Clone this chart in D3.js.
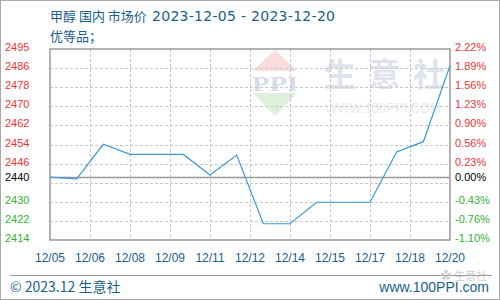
<!DOCTYPE html>
<html>
<head>
<meta charset="utf-8">
<script src="https://cdn.jsdelivr.net/npm/d3@7"></script>
<style>
body{margin:0;background:#fff;}
svg text{font-family:"Liberation Sans","Noto Sans",sans-serif;}
</style>
</head>
<body>
<div id="chart"></div>
<script>
// daily prices 12/05 .. 12/20
var startDay = new Date(2023, 11, 5);
var endDay = new Date(2023, 11, 20);
var prices = [2440.7, 2439.9, 2454.6, 2450.3, 2450.3, 2450.3, 2441.6, 2450.0,
              2420.9, 2420.9, 2430.0, 2430.0, 2430.0, 2451.3, 2455.7, 2487.9];
var baseValue = 2440.7;
var yMin = 2414, yMax = 2495;
var leftLabels = ["2414", "2422", "2430", "", "2446", "2454", "2462", "2470", "2478", "2486", "2495"];
var rightLabels = ["-1.10%", "-0.76%", "-0.43%", "", "0.23%", "0.56%", "0.90%", "1.23%", "1.56%", "1.89%", "2.22%"];
var baseLabel = "2440", basePct = "0.00%";
var titleName = "甲醇 国内 市场价 ";
var titleDates = "2023-12-05 - 2023-12-20";
var subTitle = "优等品；";

var W = 500, H = 300;
var plotLeft = 50, plotRight = 450, plotTop = 49, plotBottom = 240;
var blue = "#1a5e8c";

var svg = d3.select("#chart").append("svg")
    .attr("width", W).attr("height", H);

svg.append("rect").attr("x", 0.5).attr("y", 0.5)
    .attr("width", W - 1).attr("height", H - 1)
    .attr("fill", "#fff").attr("stroke", "#aaa");

var days = d3.timeDay.range(startDay, d3.timeDay.offset(endDay, 1));
var data = days.map(function(d, i){ return {date: d, value: prices[i]}; });

var x = d3.scaleTime().domain([startDay, endDay]).range([plotLeft, plotRight]);
var y = d3.scaleLinear().domain([yMin, yMax]).range([plotBottom, plotTop]);

var xTicks = d3.range(11).map(function(i){
    return new Date(+startDay + i * (endDay - startDay) / 10);
});
var yTicks = d3.range(11).map(function(i){ return yMin + i * (yMax - yMin) / 10; });

// watermark
var wm = svg.append("g");
wm.append("path")
    .attr("d", "M275,50 L297,71 L253,71 Z").attr("fill", "#f9dcdc");
wm.append("path")
    .attr("d", "M253,93 L297,93 L275,116 Z").attr("fill", "#dcf0dc");
wm.append("text").attr("x", 275).attr("y", 91)
    .attr("text-anchor", "middle")
    .attr("textLength", 46).attr("lengthAdjust", "spacingAndGlyphs")
    .style("font-family", "'Liberation Serif',serif").style("font-weight", "bold")
    .style("font-size", "20px").attr("fill", "#d6dcec").text("PPI");
wm.append("text").attr("x", 324).attr("y", 86)
    .attr("textLength", 121).attr("lengthAdjust", "spacing")
    .style("font-family", "'Noto Sans CJK SC',sans-serif").style("font-weight", "bold")
    .style("font-size", "32px").attr("fill", "#dfe3ee").text("生意社");
wm.append("text").attr("x", 325).attr("y", 113)
    .attr("textLength", 116).attr("lengthAdjust", "spacingAndGlyphs")
    .style("font-size", "14px").attr("fill", "#e8e9ee").text("WWW.100PPI.COM");

// grid
var grid = svg.append("g").attr("stroke", "#c8c8c8").attr("stroke-dasharray", "3,2");
grid.selectAll("line.v").data(xTicks.slice(1, -1)).enter().append("line")
    .attr("x1", function(d){ return Math.round(x(d)) + 0.5; })
    .attr("x2", function(d){ return Math.round(x(d)) + 0.5; })
    .attr("y1", plotTop).attr("y2", plotBottom);
grid.selectAll("line.h").data(yTicks.slice(1, -1)).enter().append("line")
    .attr("y1", function(d){ return Math.round(y(d)) + 0.5; })
    .attr("y2", function(d){ return Math.round(y(d)) + 0.5; })
    .attr("x1", plotLeft).attr("x2", plotRight);

// base line
svg.append("line").attr("x1", plotLeft).attr("x2", plotRight)
    .attr("y1", Math.round(y(baseValue)) + 0.5).attr("y2", Math.round(y(baseValue)) + 0.5)
    .attr("stroke", "#999").attr("stroke-width", 1.5);

// frame
svg.append("rect").attr("x", plotLeft).attr("y", plotTop)
    .attr("width", plotRight - plotLeft).attr("height", plotBottom - plotTop)
    .attr("fill", "none").attr("stroke", "#9a9a9a").attr("stroke-width", 1.5);

// line
var line = d3.line()
    .x(function(d){ return x(d.date); })
    .y(function(d){ return y(d.value); });
svg.append("path").datum(data)
    .attr("d", line).attr("fill", "none")
    .attr("stroke", "#3a98d8").attr("stroke-width", 1.2);

// y labels
function labelColor(i){ return i < 3 ? "#36b036" : "#ee3333"; }
svg.append("g").selectAll("text").data(yTicks).enter().append("text")
    .attr("x", 5).attr("y", function(d){ return y(d) + 2; })
    .style("font-size", "11px")
    .attr("fill", function(d, i){ return labelColor(i); })
    .text(function(d, i){ return leftLabels[i]; });
svg.append("g").selectAll("text").data(yTicks).enter().append("text")
    .attr("x", 455).attr("y", function(d){ return y(d) + 2; })
    .style("font-size", "11px")
    .attr("fill", function(d, i){ return labelColor(i); })
    .text(function(d, i){ return rightLabels[i]; });
svg.append("text").attr("x", 5).attr("y", y(baseValue) + 4)
    .style("font-size", "11px").attr("fill", "#000").text(baseLabel);
svg.append("text").attr("x", 455).attr("y", y(baseValue) + 4)
    .style("font-size", "11px").attr("fill", "#000").text(basePct);

// x labels
var fmt = d3.timeFormat("%m/%d");
svg.append("g").selectAll("text").data(xTicks).enter().append("text")
    .attr("x", function(d){ return x(d); }).attr("y", 262)
    .attr("text-anchor", "middle")
    .style("font-size", "12px").attr("fill", blue)
    .text(function(d){ return fmt(d); });

// titles
var t = svg.append("text").attr("x", 50).attr("y", 21)
    .style("font-family", "'Noto Sans CJK SC',sans-serif").style("font-size", "13px")
    .attr("fill", blue);
t.append("tspan").text(titleName);
t.append("tspan").attr("x", 152)
    .style("font-family", "'DejaVu Sans',sans-serif").style("font-size", "14px")
    .attr("textLength", 183).attr("lengthAdjust", "spacing")
    .text(titleDates);
svg.append("text").attr("x", 50).attr("y", 41)
    .style("font-family", "'Noto Sans CJK SC',sans-serif").style("font-size", "13px")
    .attr("fill", blue).text(subTitle);

// footer
svg.append("line").attr("x1", 10).attr("x2", 492).attr("y1", 275.5).attr("y2", 275.5)
    .attr("stroke", "#999");
svg.append("text").attr("x", 10).attr("y", 292)
    .style("font-family", "'Noto Sans CJK SC',sans-serif").style("font-size", "14px")
    .attr("fill", blue).text("© 2023.12 生意社");
svg.append("text").attr("x", 489).attr("y", 292).attr("text-anchor", "end")
    .style("font-size", "14px").attr("fill", blue).text("www.100PPI.com");
svg.append("text").attr("x", 487).attr("y", 280).attr("text-anchor", "end")
    .style("font-family", "'Noto Sans CJK SC',sans-serif").style("font-size", "11px")
    .attr("fill", "#bbb").attr("opacity", 0.7).text("✿ 生意社");
</script>
</body>
</html>
